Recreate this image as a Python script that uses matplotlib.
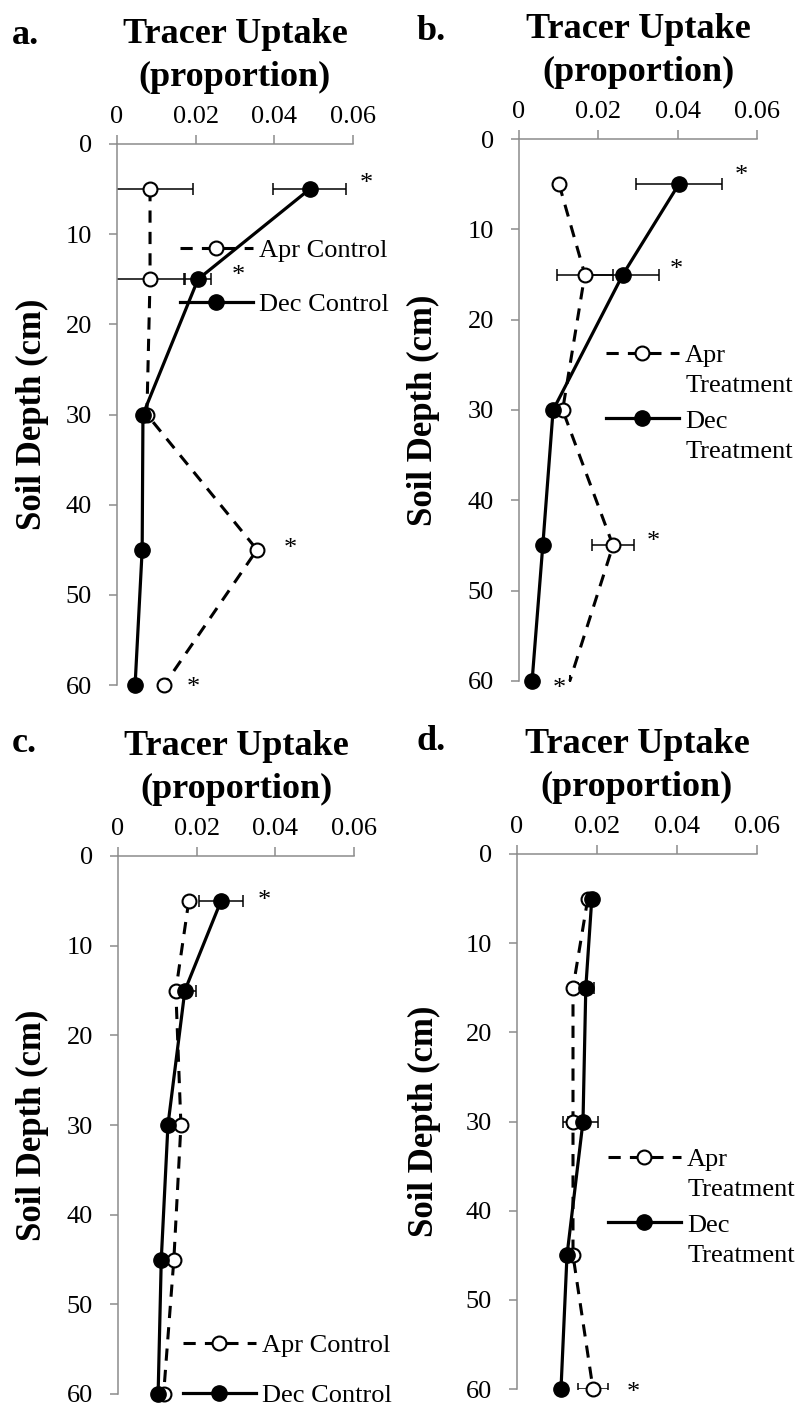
import matplotlib
matplotlib.use("Agg")
import matplotlib.pyplot as plt
from matplotlib.ticker import FixedLocator, FuncFormatter

plt.rcParams["font.family"] = ["Liberation Serif", "DejaVu Serif"]

# Soil depths sampled (cm)
depth = [5, 15, 30, 45, 60]

# a. Control plots
a_apr = [0.0084, 0.0084, 0.0076, 0.0356, 0.0120]
a_apr_err = [0.0110, 0.0086, 0.0, 0.0008, 0.0]
a_dec = [0.0490, 0.0206, 0.0066, 0.0064, 0.0046]
a_dec_err = [0.0093, 0.0033, 0.0, 0.0, 0.0]

# b. Treatment plots
b_apr = [0.0101, 0.0166, 0.0110, 0.0237, 0.0128]
b_apr_err = [0.0008, 0.0070, 0.0008, 0.0053, 0.0]
b_dec = [0.0403, 0.0262, 0.0086, 0.0060, 0.0033]
b_dec_err = [0.0108, 0.0091, 0.0, 0.0008, 0.0]

# c. Control plots
c_apr = [0.0180, 0.0147, 0.0160, 0.0142, 0.0116]
c_apr_err = [0.0008, 0.0, 0.0, 0.0, 0.0]
c_dec = [0.0262, 0.0170, 0.0127, 0.0110, 0.0102]
c_dec_err = [0.0056, 0.0028, 0.0, 0.0, 0.0]

# d. Treatment plots
d_apr = [0.0177, 0.0140, 0.0140, 0.0140, 0.0190]
d_apr_err = [0.0, 0.0, 0.0025, 0.0, 0.0037]
d_dec = [0.0187, 0.0172, 0.0165, 0.0125, 0.0110]
d_dec_err = [0.0, 0.0020, 0.0037, 0.0, 0.0]

x_ticks = [0, 0.02, 0.04, 0.06]
y_ticks = [0, 10, 20, 30, 40, 50, 60]

W, H = 796, 1405
fig = plt.figure(figsize=(W / 100, H / 100), dpi=100)
GRAY = "#8c8c8c"
PX = 72 / 100  # points per pixel


def fx(px):
    return px / W


def fy(py):
    return 1 - py / H


panels = [
    dict(tag="a.", box=(117, 144, 353, 685), apr=a_apr, apr_err=a_apr_err,
         dec=a_dec, dec_err=a_dec_err, names=("Apr Control", "Dec Control"),
         leg=(180, 239), spacing=1.14, two_line=False, ylab=-0.288,
         tag_xy=(12, 36), apr_marks=[0, 1, 2, 3, 4],
         stars=[("dec", 0, 20, 11), ("dec", 1, 27, 9), ("apr", 3, 30, 7), ("apr", 4, 29, 3)]),
    dict(tag="b.", box=(519, 139, 757, 681), apr=b_apr, apr_err=b_apr_err,
         dec=b_dec, dec_err=b_dec_err, names=("Apr", "Dec"),
         leg=(606, 344), spacing=1.58, two_line=True, ylab=-0.333,
         tag_xy=(417, 31), apr_marks=[0, 1, 2, 3],
         stars=[("dec", 0, 20, 14), ("dec", 1, 17, 10), ("apr", 3, 19, 9), ("apr", 4, -10, -2)]),
    dict(tag="c.", box=(118, 856, 354, 1394), apr=c_apr, apr_err=c_apr_err,
         dec=c_dec, dec_err=c_dec_err, names=("Apr Control", "Dec Control"),
         leg=(183, 1334), spacing=0.99, two_line=False, ylab=-0.292,
         tag_xy=(12, 743), apr_marks=[0, 1, 2, 3, 4],
         stars=[("dec", 0, 21, 6)]),
    dict(tag="d.", box=(517, 854, 757, 1389), apr=d_apr, apr_err=d_apr_err,
         dec=d_dec, dec_err=d_dec_err, names=("Apr", "Dec"),
         leg=(608, 1148), spacing=1.58, two_line=True, ylab=-0.316,
         tag_xy=(417, 741), apr_marks=[0, 1, 2, 3, 4],
         stars=[("apr", 4, 26, 2)]),
]

two_line_texts = []

for p in panels:
    l, t, r, b = p["box"]
    ax = fig.add_axes([fx(l), fy(b), (r - l) / W, (b - t) / H])
    ax.set_xlim(0, 0.06)
    ax.set_ylim(60, 0)

    # error bars (clipped at the axis), then lines with markers
    ax.errorbar(p["apr"], depth, xerr=p["apr_err"], fmt="none", ecolor="black",
                elinewidth=1.1, capsize=4.5, capthick=1.1, zorder=2)
    ax.errorbar(p["dec"], depth, xerr=p["dec_err"], fmt="none", ecolor="black",
                elinewidth=1.1, capsize=4.5, capthick=1.1, zorder=2)
    h_apr, = ax.plot(p["apr"], depth, color="black", lw=2.2, ls=(0, (4, 3)),
                     marker="o", ms=10, mfc="white", mec="black", mew=1.5,
                     markevery=p["apr_marks"], clip_on=False, zorder=3)
    h_dec, = ax.plot(p["dec"], depth, color="black", lw=2.3, ls="-",
                     marker="o", ms=11, mfc="black", mec="black",
                     clip_on=False, zorder=4)

    # significance markers
    for series, i, dx, dy in p["stars"]:
        vals = p["apr"] if series == "apr" else p["dec"]
        errs = p["apr_err"] if series == "apr" else p["dec_err"]
        ax.annotate("*", xy=(vals[i] + errs[i], depth[i]), xytext=(dx * PX, dy * PX - 6 * PX),
                    textcoords="offset points", ha="center", va="center", fontsize=19,
                    annotation_clip=False)

    # axes styling
    for side in ("right", "bottom"):
        ax.spines[side].set_visible(False)
    for side in ("top", "left"):
        ax.spines[side].set_color(GRAY)
        ax.spines[side].set_linewidth(1.1)
    ax.xaxis.set_ticks_position("top")
    ax.xaxis.set_label_position("top")
    ax.xaxis.set_major_locator(FixedLocator(x_ticks))
    ax.xaxis.set_major_formatter(FuncFormatter(lambda v, _: "%g" % v))
    ax.yaxis.set_major_locator(FixedLocator(y_ticks))
    ax.tick_params(axis="x", direction="out", length=6.5, width=1.1, color=GRAY,
                   labelsize=19, pad=5)
    ax.tick_params(axis="y", direction="out", length=6, width=1.1, color=GRAY,
                   labelsize=19, pad=12)

    ax.set_ylabel("Soil Depth (cm)", fontsize=25, fontweight="bold")
    ax.yaxis.set_label_coords(p["ylab"], 0.5)

    ax.annotate("Tracer Uptake\n(proportion)", xy=(0.5, 1.0), xycoords="axes fraction",
                xytext=(0, 88 * PX), textcoords="offset points", ha="center", va="center",
                fontsize=26, fontweight="bold", linespacing=1.4, multialignment="center")
    fig.text(fx(p["tag_xy"][0]), fy(p["tag_xy"][1]), p["tag"], fontsize=26,
             fontweight="bold", ha="left", va="center")

    leg = ax.legend([h_apr, h_dec], list(p["names"]), loc="upper left",
                    bbox_to_anchor=(fx(p["leg"][0]), fy(p["leg"][1])),
                    bbox_transform=fig.transFigure, frameon=False, fontsize=19,
                    borderpad=0, borderaxespad=0, handlelength=2.75,
                    handletextpad=0.25, labelspacing=p["spacing"])
    if p["two_line"]:
        two_line_texts.extend(leg.get_texts())

# second line ("Treatment") under each wrapped legend label
fig.canvas.draw()
for txt in two_line_texts:
    bb = txt.get_window_extent()
    fig.text(bb.x0 / W, (bb.y0 - 8) / H, "Treatment", fontsize=19,
             ha="left", va="top")

fig.savefig("out.png", dpi=100)
